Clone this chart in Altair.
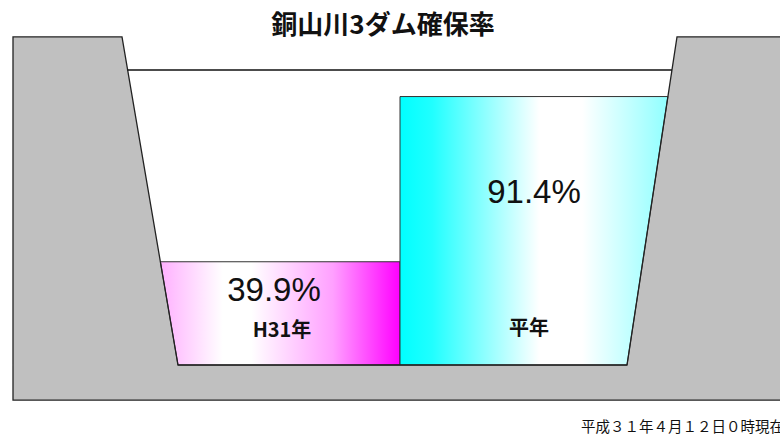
import altair as alt
import pandas as pd

# ---- data -------------------------------------------------------------
# vertical unit: percent of reservoir storage depth (0 = reservoir bed, 100 = full line)
bank_top = 111.2
ground_bottom = -11.9
full_level = 100
# horizontal positions of the valley cross-section (chart units)
bank_outer_left = 13
valley_top_left = 122
valley_bed_left = 178
valley_bed_right = 627
valley_top_right = 677
bank_outer_right = 800
divider = 400

series_names = ["H31年", "平年"]
fill_levels = [35, 91]          # drawn water levels
rate_labels = ["39.9%", "91.4%"]

title_text = "銅山川3ダム確保率"
note_text = "平成３１年４月１２日０時現在"

# ---- helpers ----------------------------------------------------------
def left_x(v):
    return valley_bed_left + (valley_top_left - valley_bed_left) * v / bank_top

def right_x(v):
    return valley_bed_right + (valley_top_right - valley_bed_right) * v / bank_top

xs = alt.Scale(domain=[0, 780], nice=False, zero=False)
ys = alt.Scale(domain=[-70 / 2.95, 365 / 2.95], nice=False, zero=False)

def X(f):
    return alt.X(f, type="quantitative", scale=xs, axis=None)

def Y(f):
    return alt.Y(f, type="quantitative", scale=ys, axis=None)

# ground (gray)
ground = alt.Chart(pd.DataFrame({"x": [bank_outer_left], "x2": [bank_outer_right],
                                 "y": [ground_bottom], "y2": [bank_top]})).mark_rect(
    color="#c0c0c0", clip=True).encode(x=X("x"), x2="x2", y=Y("y"), y2="y2")

# valley (white)
vdf = pd.DataFrame({"y": [0, bank_top], "xl": [left_x(0), left_x(bank_top)],
                    "xr": [right_x(0), right_x(bank_top)]})
valley = alt.Chart(vdf).mark_area(orient="horizontal", color="white").encode(
    y=Y("y"), x=X("xl"), x2="xr")

# H31 fill (pink gradient)
pdf = pd.DataFrame({"y": [0, fill_levels[0]], "xl": [left_x(0), left_x(fill_levels[0])],
                    "xr": [divider, divider]})
pink = alt.Chart(pdf).mark_area(
    orient="horizontal", stroke="#333333", strokeWidth=1, clip=True,
    fill=alt.LinearGradient(gradient="linear", x1=0, x2=1, y1=0, y2=0, stops=[
        alt.GradientStop(offset=0, color="#ffb0ff"),
        alt.GradientStop(offset=0.26, color="#ffffff"),
        alt.GradientStop(offset=0.38, color="#ffffff"),
        alt.GradientStop(offset=0.72, color="#ffa0ff"),
        alt.GradientStop(offset=1, color="#ff00ff")])
).encode(y=Y("y"), x=X("xl"), x2="xr")

# normal year fill (cyan gradient)
cdf = pd.DataFrame({"y": [0, fill_levels[1]], "xl": [divider, divider],
                    "xr": [right_x(0), right_x(fill_levels[1])]})
cyan = alt.Chart(cdf).mark_area(
    orient="horizontal", stroke="#333333", strokeWidth=1, clip=True,
    fill=alt.LinearGradient(gradient="linear", x1=0, x2=1, y1=0, y2=0, stops=[
        alt.GradientStop(offset=0, color="#00ffff"),
        alt.GradientStop(offset=0.12, color="#20ffff"),
        alt.GradientStop(offset=0.52, color="#ffffff"),
        alt.GradientStop(offset=0.68, color="#ffffff"),
        alt.GradientStop(offset=1, color="#90ffff")])
).encode(y=Y("y"), x=X("xr"), x2="xl")

# outline of the ground
odf = pd.DataFrame({
    "x": [bank_outer_right, valley_top_right, valley_bed_right, valley_bed_left,
          valley_top_left, bank_outer_left, bank_outer_left, bank_outer_right],
    "y": [bank_top, bank_top, 0, 0, bank_top, bank_top, ground_bottom, ground_bottom],
    "o": list(range(8))})
outline = alt.Chart(odf).mark_line(color="#222222", strokeWidth=1.3, clip=True).encode(
    x=X("x"), y=Y("y"), order="o:Q")

# full-storage line
fdf = pd.DataFrame({"x": [left_x(full_level)], "x2": [right_x(full_level)], "y": [full_level]})
full_line = alt.Chart(fdf).mark_rule(color="#111111", strokeWidth=1.5).encode(
    x=X("x"), x2="x2", y=Y("y"))

# texts
rate_df = pd.DataFrame({"x": [274, 534], "y": [(365 - 291) / 2.95, (365 - 193) / 2.95],
                        "t": rate_labels})
rate_txt = alt.Chart(rate_df).mark_text(
    font="Liberation Sans Narrow, Arial Narrow, Liberation Sans", fontSize=33,
    color="#111111").encode(x=X("x"), y=Y("y"), text="t:N")

name_df = pd.DataFrame({"x": [282, 529], "y": [(365 - 331) / 2.95, (365 - 329) / 2.95],
                        "t": series_names})
name_txt = alt.Chart(name_df).mark_text(
    font="Noto Sans CJK JP", fontSize=20, fontWeight="bold", color="#111111").encode(
    x=X("x"), y=Y("y"), text="t:N")

title_df = pd.DataFrame({"x": [383], "y": [(365 - 26) / 2.95], "t": [title_text]})
title_txt = alt.Chart(title_df).mark_text(
    font="Noto Sans CJK JP", fontSize=26, fontWeight="bold", color="#111111").encode(
    x=X("x"), y=Y("y"), text="t:N")

note_df = pd.DataFrame({"x": [581], "y": [(365 - 428) / 2.95], "t": [note_text]})
note_txt = alt.Chart(note_df).mark_text(
    font="Noto Sans CJK JP", fontSize=14.5, align="left", color="#111111").encode(
    x=X("x"), y=Y("y"), text="t:N")

chart = alt.layer(ground, valley, pink, cyan, outline, full_line,
                  rate_txt, name_txt, title_txt, note_txt).properties(
    width=780, height=435, padding=0, autosize="none", background="white"
).configure_view(stroke=None)

chart.save("out.html", embed_options={"renderer": "svg", "actions": False})
